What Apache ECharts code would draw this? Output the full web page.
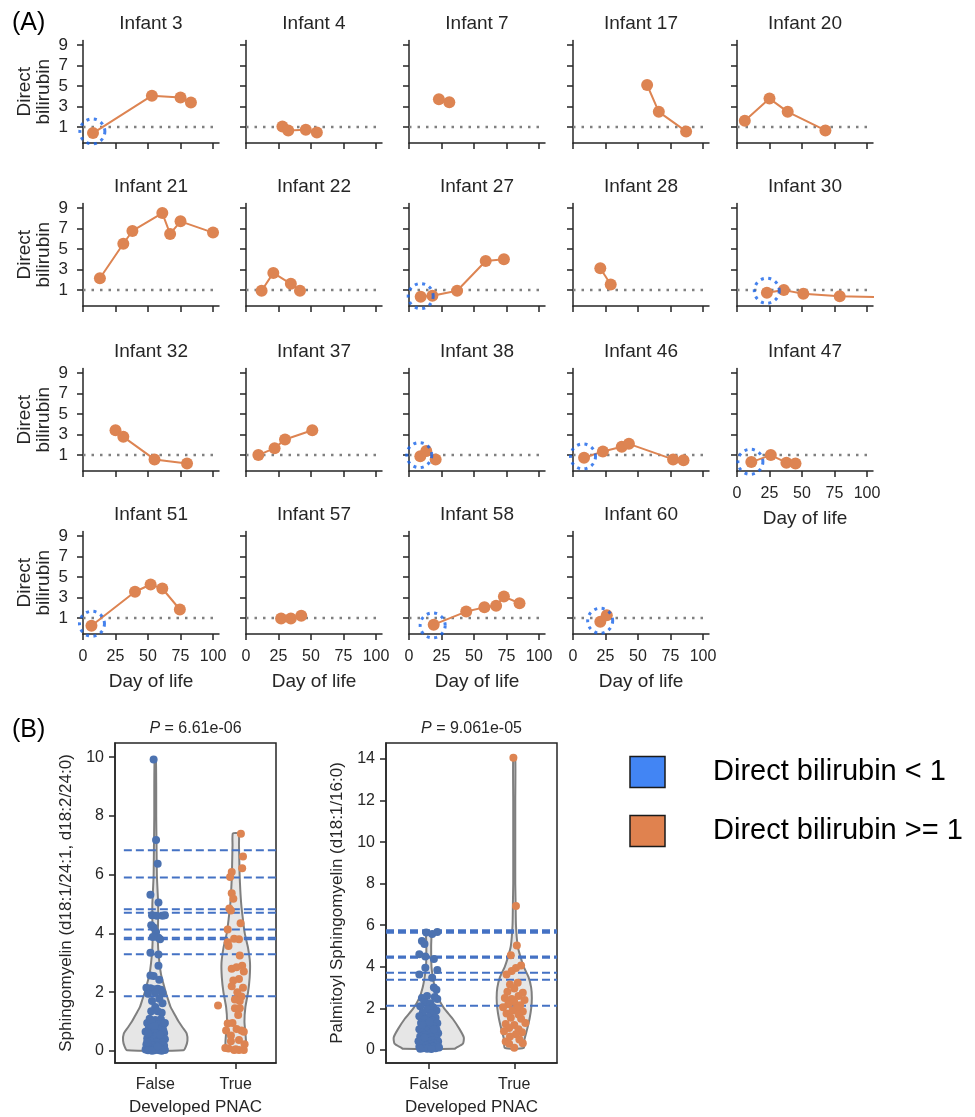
<!DOCTYPE html>
<html lang="en">
<head>
  <meta charset="UTF-8">
  <title>Direct bilirubin / sphingomyelin</title>
  <script src="https://cdn.jsdelivr.net/npm/echarts@6/dist/echarts.min.js"></script>
  <style>
    html, body { margin: 0; padding: 0; background: #fff; }
    #main { width: 975px; height: 1117px; }
  </style>
</head>
<body>
<div id="main"></div>
<script>
  // ---------- (A) direct bilirubin by day of life, one panel per infant
  var infantNames = ['Infant 3', 'Infant 4', 'Infant 7', 'Infant 17', 'Infant 20',
                     'Infant 21', 'Infant 22', 'Infant 27', 'Infant 28', 'Infant 30',
                     'Infant 32', 'Infant 37', 'Infant 38', 'Infant 46', 'Infant 47',
                     'Infant 51', 'Infant 57', 'Infant 58', 'Infant 60'];
  var infantDays = [
    [7.7, 53, 75, 83], [28, 32.5, 46, 54.5], [23, 31], [57, 66, 87], [6, 25, 39, 68],
    [13, 31, 38, 61, 67, 75, 100], [12, 21, 34.5, 41.5], [9, 18, 37, 59, 73], [21, 29], [23, 36, 51, 79, 112],
    [25, 31, 55, 80], [9.5, 22, 30, 51], [8.7, 13.3, 20.5], [8.5, 23, 37.5, 43, 77, 85], [11, 26, 38, 45],
    [6.5, 40, 52, 61, 74.5], [27, 34.5, 42.5], [19, 44, 58, 67, 73, 85], [21, 26]
  ];
  var infantBili = [
    [0.42, 4.07, 3.88, 3.39], [1.06, 0.66, 0.74, 0.48], [3.72, 3.43], [5.11, 2.49, 0.58], [1.61, 3.78, 2.49, 0.68],
    [2.16, 5.52, 6.77, 8.52, 6.48, 7.71, 6.61], [0.94, 2.68, 1.61, 0.94], [0.35, 0.45, 0.94, 3.84, 4.0], [3.13, 1.55], [0.74, 1.0, 0.65, 0.39, 0.30],
    [3.43, 2.78, 0.58, 0.19], [1.0, 1.68, 2.52, 3.43], [0.9, 1.39, 0.58], [0.74, 1.36, 1.81, 2.1, 0.58, 0.51], [0.32, 1.0, 0.26, 0.19],
    [0.26, 3.57, 4.28, 3.89, 1.84], [0.97, 0.97, 1.23], [0.36, 1.64, 2.05, 2.2, 3.1, 2.45], [0.64, 1.29]
  ];
  // dotted blue rings (index into infantNames, centre day, centre value)
  var ringInfant = [0, 7, 9, 12, 13, 14, 15, 17, 18];
  var ringDay    = [7.2, 9, 22.9, 7.9, 7.7, 10.3, 6.9, 18.2, 20.9];
  var ringBili   = [0.58, 0.42, 0.94, 1.0, 0.87, 0.35, 0.45, 0.29, 0.74];
  var dayTicks = [0, 25, 50, 75, 100];
  var biliTicks = [1, 3, 5, 7, 9];
  var biliThreshold = 1;

  // ---------- (B) violins + strips
  var groupLabels = ['False', 'True'];
  // Sphingomyelin (d18:1/24:1, d18:2/24:0): [jitter, value]
  var smFalse = [[-0.02, 9.92], [0.01, 7.18], [0.03, 6.37], [-0.06, 5.32], [0.04, 5.05], [-0.04, 4.62], [0.02, 4.6], [0.09, 4.6], [0.12, 4.62],
    [-0.05, 4.28], [-0.02, 4.2], [0.01, 4.05], [-0.03, 3.88], [0.04, 3.85], [0.06, 3.8], [-0.06, 3.34], [0.04, 3.28], [0.04, 2.9],
    [-0.06, 2.57], [-0.02, 2.55], [0.05, 2.42], [-0.11, 2.15], [-0.06, 2.13], [-0.02, 2.1], [0.03, 2.12], [0.07, 2.08], [0.09, 1.98],
    [0.0, 1.98], [-0.09, 1.95], [-0.04, 1.7], [0.05, 1.78], [0.09, 1.62], [0.0, 1.5], [-0.05, 1.35], [0.03, 1.35], [0.08, 1.3],
    [-0.07, 1.1], [0.0, 1.05], [0.07, 1.08], [-0.1, 0.95], [-0.04, 0.9], [0.04, 0.92], [0.1, 0.88], [-0.08, 0.78], [0.0, 0.75],
    [0.06, 0.72], [-0.12, 0.65], [-0.03, 0.62], [0.03, 0.6], [0.11, 0.6], [-0.07, 0.52], [0.01, 0.5], [0.08, 0.48], [-0.1, 0.42],
    [-0.02, 0.4], [0.05, 0.38], [0.12, 0.4], [-0.06, 0.32], [0.02, 0.3], [0.09, 0.28], [-0.11, 0.22], [-0.03, 0.2], [0.04, 0.2],
    [0.11, 0.18], [-0.08, 0.12], [0.0, 0.12], [0.07, 0.1], [-0.12, 0.05], [-0.05, 0.04], [0.02, 0.05], [0.09, 0.04], [-0.09, 0.02],
    [-0.01, 0.02], [0.05, 0.02], [0.12, 0.03], [-0.04, 0.01], [0.08, 0.01], [-0.1, 0.3], [0.1, 0.7], [-0.05, 1.0], [0.06, 0.55],
    [-0.01, 0.85], [0.12, 0.95], [-0.09, 0.6], [0.03, 0.15]];
  var smTrue = [[0.064, 7.39], [0.09, 6.62], [0.08, 6.22], [-0.05, 6.09], [-0.07, 5.92], [-0.05, 5.37], [-0.03, 5.18], [-0.08, 4.85],
    [-0.06, 4.78], [0.06, 4.35], [-0.1, 4.13], [-0.02, 3.82], [0.04, 3.8], [-0.1, 3.7], [-0.09, 3.57], [0.05, 3.25], [-0.05, 2.8],
    [0.01, 2.85], [0.08, 2.9], [0.1, 2.7], [-0.03, 2.4], [0.04, 2.45], [-0.05, 2.2], [0.09, 2.15], [0.02, 2.0], [0.07, 1.85],
    [-0.01, 1.75], [0.05, 1.7], [-0.01, 1.45], [0.05, 1.45], [-0.22, 1.55], [0.03, 1.22], [-0.1, 0.93], [-0.04, 0.95], [0.01, 0.75],
    [-0.12, 0.7], [-0.06, 0.53], [0.07, 0.7], [0.1, 0.65], [0.04, 0.37], [-0.06, 0.33], [0.11, 0.23], [-0.09, 0.08], [-0.02, 0.03],
    [0.04, 0.03], [0.1, 0.03], [0.0, 0.06], [-0.13, 0.1]];
  // Palmitoyl sphingomyelin (d18:1/16:0)
  var psFalse = [[-0.03, 5.65], [0.04, 5.58], [0.1, 5.68], [-0.08, 5.24], [-0.05, 5.1], [-0.11, 4.6], [-0.04, 4.5], [0.06, 4.37],
    [-0.04, 3.95], [0.1, 3.84], [-0.11, 3.63], [0.04, 3.47], [0.06, 3.0], [0.09, 2.9], [-0.02, 2.6], [-0.08, 2.5], [0.07, 2.55],
    [0.1, 2.45], [-0.05, 2.3], [0.02, 2.25], [-0.1, 2.1], [0.05, 2.05], [-0.02, 1.95], [0.09, 1.9], [-0.07, 1.8], [0.03, 1.75],
    [-0.11, 1.62], [0.0, 1.6], [0.08, 1.55], [-0.05, 1.45], [0.04, 1.4], [-0.09, 1.3], [0.1, 1.28], [-0.01, 1.22], [0.06, 1.15],
    [-0.06, 1.1], [0.02, 1.05], [-0.11, 1.0], [0.09, 0.98], [-0.03, 0.92], [0.05, 0.88], [-0.08, 0.82], [0.0, 0.78], [0.11, 0.8],
    [-0.05, 0.72], [0.07, 0.7], [-0.1, 0.65], [0.02, 0.62], [-0.02, 0.55], [0.09, 0.55], [-0.07, 0.5], [0.04, 0.48], [-0.12, 0.42],
    [0.0, 0.4], [0.11, 0.4], [-0.05, 0.35], [0.06, 0.32], [-0.09, 0.28], [0.02, 0.25], [0.1, 0.22], [-0.03, 0.2], [-0.11, 0.15],
    [0.05, 0.15], [0.0, 0.1], [-0.07, 0.08], [0.08, 0.08], [-0.02, 0.05], [0.03, 0.04], [-0.1, 0.05], [0.12, 0.12], [-0.05, 0.6],
    [0.06, 1.0], [-0.08, 1.2], [0.01, 1.35]];
  var psTrue = [[-0.01, 14.06], [0.02, 6.92], [0.03, 5.03], [-0.04, 4.55], [0.08, 4.06], [0.02, 3.94], [-0.03, 3.8], [-0.09, 3.63],
    [0.04, 3.23], [-0.05, 3.15], [0.0, 2.95], [-0.08, 2.8], [0.1, 2.75], [0.05, 2.6], [-0.11, 2.5], [-0.03, 2.45], [0.12, 2.4],
    [0.0, 2.3], [-0.07, 2.2], [0.07, 2.15], [-0.13, 2.05], [0.03, 2.0], [-0.02, 1.9], [0.1, 1.85], [-0.09, 1.75], [0.05, 1.7],
    [-0.04, 1.55], [0.08, 1.5], [0.13, 1.3], [-0.1, 1.25], [0.0, 1.2], [-0.06, 1.05], [0.05, 1.0], [-0.12, 0.9], [0.09, 0.85],
    [0.02, 0.75], [-0.05, 0.65], [-0.1, 0.4], [-0.06, 0.3], [0.1, 0.32], [0.0, 0.1], [0.06, 0.5]];
  // violin outlines: value levels and half widths (category units)
  var smFalseLevels = [0.02, 0.15, 0.35, 0.6, 0.8, 1.0, 1.25, 1.5, 1.75, 2.0, 2.3, 2.6, 3.0, 3.5, 4.0, 4.5, 5.0, 5.5, 6.0, 7.0, 8.0, 9.0, 9.9];
  var smFalseHalf   = [0.35, 0.38, 0.40, 0.39, 0.34, 0.29, 0.24, 0.19, 0.16, 0.13, 0.10, 0.072, 0.052, 0.036, 0.032, 0.036, 0.036, 0.028, 0.02, 0.016, 0.012, 0.012, 0.008];
  var smTrueLevels  = [0.05, 0.3, 0.6, 1.0, 1.5, 2.0, 2.5, 3.0, 3.5, 4.0, 4.5, 5.0, 5.5, 6.0, 6.5, 7.0, 7.4];
  var smTrueHalf    = [0.12, 0.128, 0.12, 0.108, 0.12, 0.153, 0.173, 0.177, 0.153, 0.112, 0.088, 0.068, 0.056, 0.048, 0.044, 0.04, 0.036];
  var psFalseLevels = [0.05, 0.1, 0.3, 0.6, 1.0, 1.5, 2.0, 2.5, 3.0, 3.5, 4.0, 5.0, 5.5, 5.65];
  var psFalseHalf   = [0.30, 0.32, 0.40, 0.41, 0.36, 0.28, 0.18, 0.11, 0.071, 0.048, 0.032, 0.028, 0.032, 0.03];
  var psTrueLevels  = [0.1, 0.5, 1.0, 1.5, 2.0, 2.5, 3.0, 3.5, 4.0, 4.5, 5.0, 6.0, 7.0, 8.0, 10.0, 12.0, 14.05];
  var psTrueHalf    = [0.111, 0.119, 0.151, 0.179, 0.198, 0.206, 0.198, 0.167, 0.111, 0.071, 0.04, 0.02, 0.016, 0.012, 0.012, 0.012, 0.012];
  // dashed reference lines
  var smLines = [6.83, 5.9, 4.82, 4.7, 4.13, 3.85, 3.8, 3.29, 1.86];
  var psLines = [5.76, 5.70, 5.64, 4.49, 4.43, 3.71, 3.38, 2.12];
  var smTicks = [0, 2, 4, 6, 8, 10];
  var psTicks = [0, 2, 4, 6, 8, 10, 12, 14];

  var myChart = echarts.init(document.getElementById('main'), null, { renderer: 'canvas' });

  var ink = '#262626';
  var orange = '#dd8452';
  var blue = '#4c72b0';
  var font = '"Liberation Sans", Arial, sans-serif';
  var colLeft = [83, 246, 409, 573, 737];
  var rowTop = [40.5, 203.5, 368.5, 531.5];
  var cellW = 136, cellH = 102.5, dayMax = 104.6;

  var grids = [], xAxes = [], yAxes = [], series = [], graphics = [];

  function axisBase(color) {
    return {
      axisLine: { show: true, onZero: false, lineStyle: { color: color, width: 1.5 } },
      splitLine: { show: false }
    };
  }

  infantNames.forEach(function (name, i) {
    var row = Math.floor(i / 5), col = i % 5;
    var bottom = i + 5 >= infantNames.length;
    grids.push({ left: colLeft[col], top: rowTop[row], width: cellW, height: cellH, containLabel: false, outerBoundsMode: 'none' });
    xAxes.push(Object.assign(axisBase(ink), {
      type: 'value', gridIndex: i, min: 0, max: dayMax,
      axisTick: { show: true, length: 6, customValues: dayTicks, lineStyle: { color: ink, width: 1.5 } },
      axisLabel: { show: bottom, customValues: dayTicks, color: ink, fontSize: 16, fontFamily: font, margin: 15 },
      name: bottom ? 'Day of life' : '', nameLocation: 'middle', nameGap: 38,
      nameTextStyle: { color: ink, fontSize: 19, fontFamily: font }
    }));
    yAxes.push(Object.assign(axisBase(ink), {
      type: 'value', gridIndex: i, min: -0.55, max: 9.45,
      axisTick: { show: true, length: 6, customValues: biliTicks, lineStyle: { color: ink, width: 1.5 } },
      axisLabel: { show: col === 0, customValues: biliTicks, color: ink, fontSize: 17, fontFamily: font, margin: 15 },
      name: col === 0 ? 'Direct\nbilirubin' : '', nameLocation: 'middle', nameGap: 30, nameRotate: 90,
      nameTextStyle: { color: ink, fontSize: 19, fontFamily: font, lineHeight: 19 }
    }));
    // dotted threshold line
    series.push({
      type: 'line', xAxisIndex: i, yAxisIndex: i, silent: true, z: 1,
      data: [[0, biliThreshold], [dayMax, biliThreshold]], showSymbol: false,
      lineStyle: { color: '#808080', width: 2.5, type: [2.5, 6] }
    });
    series.push({
      type: 'line', xAxisIndex: i, yAxisIndex: i, silent: true, z: 3, clip: true,
      data: infantDays[i].map(function (d, k) {
        var item = { value: [d, infantBili[i][k]] };
        if (d > dayMax) item.symbol = 'none';
        return item;
      }),
      symbol: 'circle', symbolSize: 12, showAllSymbol: true,
      itemStyle: { color: orange }, lineStyle: { color: orange, width: 2 }
    });
    graphics.push({
      type: 'text', x: colLeft[col] + cellW / 2, y: rowTop[row] - 16.5,
      style: { text: name, fill: ink, font: '19px ' + font, textAlign: 'center', textVerticalAlign: 'middle', verticalAlign: 'middle' }
    });
  });

  ringInfant.forEach(function (idx, k) {
    series.push({
      type: 'scatter', xAxisIndex: idx, yAxisIndex: idx, silent: true, z: 4,
      data: [[ringDay[k], ringBili[k]]], symbolSize: 25,
      itemStyle: { color: 'rgba(0,0,0,0)', borderColor: '#1763e8', borderWidth: 3, borderType: [3, 4.5] }
    });
  });

  // ---------- panel B
  var bPanels = [
    { left: 115, width: 161, min: -0.41, max: 10.48, ticks: smTicks, name: 'Sphingomyelin (d18:1/24:1, d18:2/24:0)',
      p: '6.61e-06', lineStart: -0.39, lines: smLines,
      violins: [[smFalseLevels, smFalseHalf], [smTrueLevels, smTrueHalf]], strips: [smFalse, smTrue] },
    { left: 386, width: 171, min: -0.63, max: 14.77, ticks: psTicks, name: 'Palmitoyl Sphingomyelin (d18:1/16:0)',
      p: '9.061e-05', lineStart: -0.5, lines: psLines,
      violins: [[psFalseLevels, psFalseHalf], [psTrueLevels, psTrueHalf]], strips: [psFalse, psTrue] }
  ];

  bPanels.forEach(function (bp, b) {
    var gi = infantNames.length + b;
    grids.push({ left: bp.left, top: 743, width: bp.width, height: 320, show: true, borderColor: ink, borderWidth: 1.5,
                 backgroundColor: 'rgba(0,0,0,0)', containLabel: false, outerBoundsMode: 'none' });
    xAxes.push(Object.assign(axisBase(ink), {
      type: 'value', gridIndex: gi, min: -0.5, max: 1.5,
      axisTick: { show: true, length: 6, customValues: [0, 1], lineStyle: { color: ink, width: 1.5 } },
      axisLabel: { show: true, customValues: [0, 1], color: ink, fontSize: 16, fontFamily: font, margin: 14,
                   formatter: function (v) { return groupLabels[Math.round(v)]; } },
      name: 'Developed PNAC', nameLocation: 'middle', nameGap: 36,
      nameTextStyle: { color: ink, fontSize: 17, fontFamily: font }
    }));
    yAxes.push(Object.assign(axisBase(ink), {
      type: 'value', gridIndex: gi, min: bp.min, max: bp.max,
      axisTick: { show: true, length: 6, customValues: bp.ticks, lineStyle: { color: ink, width: 1.5 } },
      axisLabel: { show: true, customValues: bp.ticks, color: ink, fontSize: 16, fontFamily: font, margin: 11 },
      name: bp.name, nameLocation: 'middle', nameGap: 40, nameRotate: 90,
      nameTextStyle: { color: ink, fontSize: 17, fontFamily: font }
    }));
    bp.violins.forEach(function (v, c) {
      var levels = v[0], half = v[1];
      series.push({
        type: 'custom', xAxisIndex: gi, yAxisIndex: gi, silent: true, z: 1,
        data: [[c, levels[0]]],
        renderItem: function (params, api) {
          var pts = [], k;
          for (k = 0; k < levels.length; k++) pts.push(api.coord([c + half[k], levels[k]]));
          for (k = levels.length - 1; k >= 0; k--) pts.push(api.coord([c - half[k], levels[k]]));
          return { type: 'polygon', shape: { points: pts, smooth: 0.2 },
                   style: { fill: '#e6e6e6', stroke: '#7f7f7f', lineWidth: 2 } };
        }
      });
    });
    bp.lines.forEach(function (v) {
      series.push({
        type: 'line', xAxisIndex: gi, yAxisIndex: gi, silent: true, z: 2, showSymbol: false,
        data: [[bp.lineStart, v], [1.5, v]],
        lineStyle: { color: '#4472c4', width: 2, type: [8, 4] }
      });
    });
    bp.strips.forEach(function (pts, c) {
      series.push({
        type: 'scatter', xAxisIndex: gi, yAxisIndex: gi, silent: true, z: 3, symbolSize: 8,
        data: pts.map(function (p) { return [c + p[0], p[1]]; }),
        itemStyle: { color: c === 0 ? blue : orange, opacity: 1 }
      });
    });
    graphics.push({
      type: 'text', x: bp.left + bp.width / 2, y: 729,
      style: { text: '{i|P} = ' + bp.p, fill: ink, font: '16px ' + font, textAlign: 'center', verticalAlign: 'middle',
               rich: { i: { fontStyle: 'italic', fontSize: 16, fontFamily: font, fill: ink } } }
    });
  });

  // panel letters and legend
  graphics.push({ type: 'text', x: 12, y: 23, style: { text: '(A)', fill: '#000', font: '25px ' + font, verticalAlign: 'middle' } });
  graphics.push({ type: 'text', x: 12, y: 730, style: { text: '(B)', fill: '#000', font: '25px ' + font, verticalAlign: 'middle' } });
  var legendNames = ['Direct bilirubin < 1', 'Direct bilirubin >= 1'];
  var legendColors = ['#4285f4', '#e0824f'];
  legendNames.forEach(function (txt, k) {
    var cy = 772 + k * 59;
    graphics.push({ type: 'rect', shape: { x: 630, y: cy - 15.5, width: 35, height: 31 },
                    style: { fill: legendColors[k], stroke: '#1a1a1a', lineWidth: 1.5 } });
    graphics.push({ type: 'text', x: 713, y: cy, style: { text: txt, fill: '#000', font: '29px ' + font, verticalAlign: 'middle' } });
  });

  var option = {
    animation: false,
    backgroundColor: '#fff',
    grid: grids,
    xAxis: xAxes,
    yAxis: yAxes,
    series: series,
    graphic: graphics
  };
  myChart.setOption(option);
</script>
</body>
</html>
